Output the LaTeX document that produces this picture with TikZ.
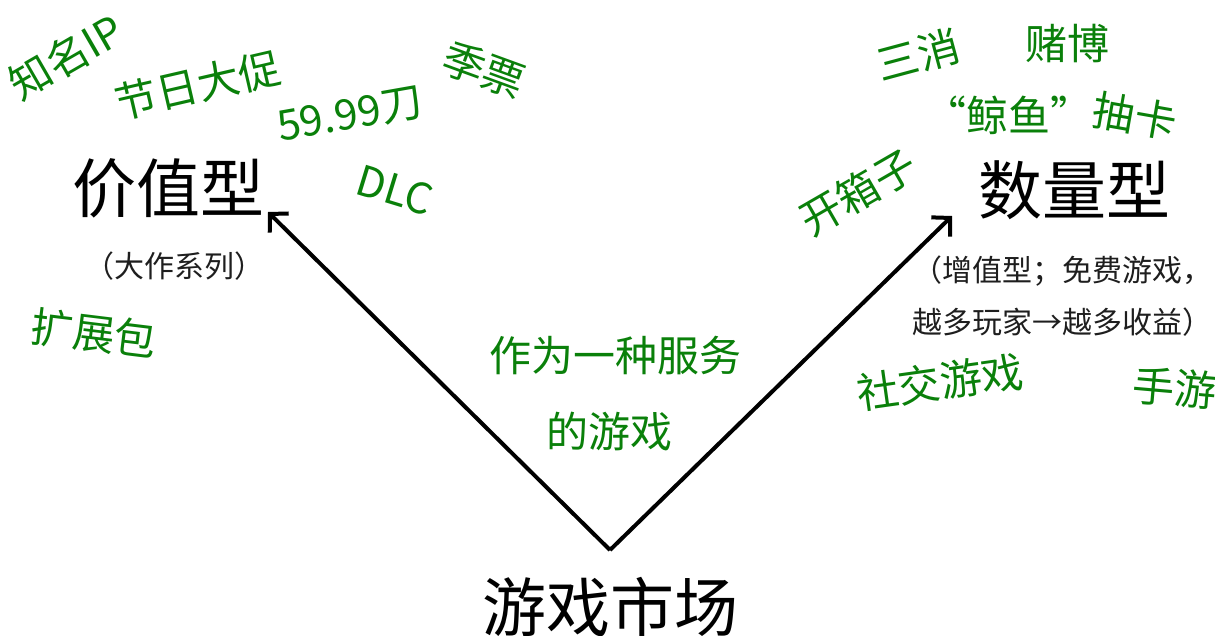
\documentclass[tikz,border=0pt]{standalone}
\usepackage{fontspec}
\newfontfamily\cjk{Noto Sans CJK SC}
\usetikzlibrary{arrows.meta}
\definecolor{tagGreen}{RGB}{10,128,10}
\definecolor{subGray}{RGB}{30,30,30}
\tikzset{
  tag/.style={inner sep=0pt, text=tagGreen, font=\cjk\fontsize{42}{50}\selectfont},
  title/.style={inner sep=0pt, text=black, font=\cjk\fontsize{64}{70}\selectfont},
  subtitle/.style={inner sep=0pt, text=subGray, align=center, font=\cjk\fontsize{30}{52}\selectfont},
  link/.style={line width=4pt, -{Straight Barb[length=13pt,width=27pt]}}
}
\begin{document}
\begin{tikzpicture}[x=1pt,y=-1pt]
\useasboundingbox (0,0) rectangle (1215,635);
% titles
\node[title] (value) at (168,188) {价值型};
\node[title] (quantity) at (1074,190) {数量型};
\node[title] (market) at (610,607) {游戏市场};
% subtitles
\node[subtitle] (valuesub) at (174,266) {（大作系列）};
\node[subtitle] (quantsub) at (1062,296) {（增值型；免费游戏，\\越多玩家→越多收益）};
% green tags left
\node[tag, rotate=30] (ip) at (66,57) {知名IP};
\node[tag, rotate=13] (sale) at (198,85) {节日大促};
\node[tag, rotate=10] (price) at (350,115) {59.99刀};
\node[tag, rotate=-20] (season) at (484,70) {季票};
\node[tag, rotate=-17] (dlc) at (395,190) {DLC};
\node[tag, rotate=-7] (expansion) at (94,333) {扩展包};
% middle
\node[tag] (service1) at (615,356) {作为一种服务};
\node[tag] (service2) at (609,432) {的游戏};
% green tags right
\node[tag, rotate=15] (match3) at (918,55) {三消};
\node[tag] (gamble) at (1067,43) {赌博};
\node[tag] (whale) at (1008,115) {“鲸鱼”};
\node[tag, rotate=-10] (gacha) at (1135,116) {抽卡};
\node[tag, rotate=30] (lootbox) at (858,192) {开箱子};
\node[tag, rotate=8] (social) at (940,382) {社交游戏};
\node[tag, rotate=-5] (mobile) at (1175,388) {手游};
% arrows
\coordinate (apex) at (610,550);
\coordinate (lefttip) at (268,212);
\coordinate (righttip) at (952,216);
\draw[link, line join=miter] (apex) -- (lefttip);
\draw[link, line join=miter] (apex) -- (righttip);
\end{tikzpicture}
\end{document}
